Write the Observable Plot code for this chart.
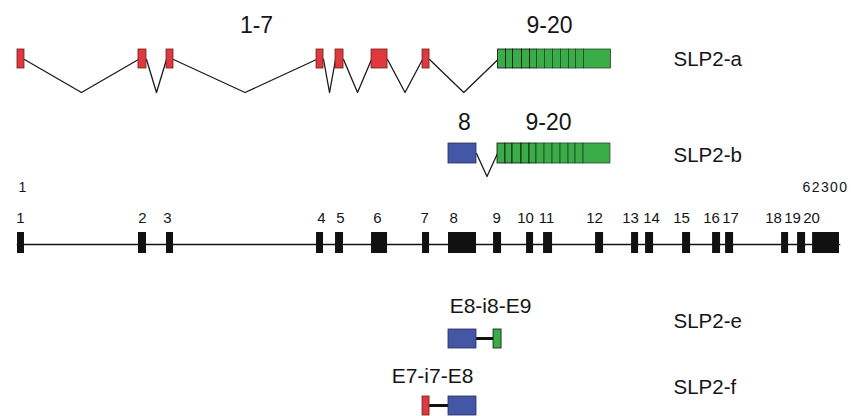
<!DOCTYPE html>
<html><head><meta charset="utf-8">
<script src="https://cdn.jsdelivr.net/npm/d3@7"></script>
<script src="https://cdn.jsdelivr.net/npm/@observablehq/plot@0.6"></script>
<style>
body{margin:0;background:#fff}
svg{display:block}
</style>
</head><body><div id="chart"></div>
<script>
// ---------------- DATA ----------------
const geneStart = 1;
const geneEnd = 62300;
const exonNumbers = [1,2,3,4,5,6,7,8,9,10,11,12,13,14,15,16,17,18,19,20];
const exonStarts = [1, 9170, 11294, 22664, 24104, 26833, 30699, 32666, 36081, 38582,
                    39871, 43812, 46541, 47602, 50407, 52681, 53666, 57911, 59124, 60261];
const exonEnds   = [530, 9777, 11824, 23195, 24711, 28046, 31230, 34788, 36687, 39113,
                    40553, 44419, 47072, 48209, 51013, 53287, 54273, 58442, 59730, 62300];
const exonLabelPos = [230, 9475, 11370, 23043, 24483, 27288, 30851, 33049, 36308, 38506,
                      40098, 43737, 46465, 48057, 50331, 52605, 54045, 57305, 58745, 60185];
const transcriptNames = ["SLP2-a", "SLP2-b", "SLP2-e", "SLP2-f"];
// SLP2-a: exons 1-7 spliced (genomic spacing), exons 9-20 joined
const slp2aSpaced = [1,2,3,4,5,6,7];
const slp2aJoined = [9,10,11,12,13,14,15,16,17,18,19,20];
const slp2aJoinStart = 36418;
// SLP2-b: exon 8 then joined exons 9-20
const slp2bSpaced = [8];
const slp2bJoined = [9,10,11,12,13,14,15,16,17,18,19,20];
const slp2bJoinStart = 36380;
// intron-retaining fragments
const slp2eExons = [8, 9];
const slp2fExons = [7, 8];
const groupLabelsA = ["1-7", "9-20"];
const groupLabelsB = ["8", "9-20"];
const fragmentLabels = ["E8-i8-E9", "E7-i7-E8"];

// ---------------- LAYOUT / STYLE ----------------
const W = 851, H = 416;
const xRange = [17, 839];
const bpPerPx = (geneEnd - geneStart) / (xRange[1] - xRange[0]);
const atPx = px => geneStart + (px - xRange[0]) * bpPerPx;
const FONT = "Liberation Sans, Arial, Helvetica, sans-serif";
const INK = "#151515";
const RED = "#e0393d", BLUE = "#4456a6", GREEN = "#3aad48";
const exonColor = n => n <= 7 ? RED : n === 8 ? BLUE : GREEN;
const exonStroke = n => n <= 7 ? "#6b2020" : n === 8 ? "#2a2f55" : (n <= 13 ? "#111" : "#24462a");

const track = {
  a: {top: 49, bottom: 68, attach: 59, vertex: 92},
  b: {top: 143, bottom: 163, attach: 153, vertex: 176},
  g: {top: 232, bottom: 253, line: 244},
  e: {top: 329, bottom: 348, line: 338},
  f: {top: 396, bottom: 415, line: 405}
};

const ex = n => ({exon: n, x1: exonStarts[n-1], x2: exonEnds[n-1]});
function joined(nums, start) {
  let s = start;
  return nums.map(n => {
    const w = exonEnds[n-1] - exonStarts[n-1];
    const r = {exon: n, x1: s, x2: s + w};
    s += w;
    return r;
  });
}
const withTrack = (arr, t) => arr.map(d => ({...d, y1: track[t].top, y2: track[t].bottom}));

const aSpaced = slp2aSpaced.map(ex);
const aJoined = joined(slp2aJoined, slp2aJoinStart);
const bSpaced = slp2bSpaced.map(ex);
const bJoined = joined(slp2bJoined, slp2bJoinStart);

function spliceLines(units, t, id) {
  const pts = [];
  for (let i = 0; i < units.length - 1; i++) {
    const a = units[i].x2, b = units[i+1].x1;
    pts.push({z: id + i, x: a, y: track[t].attach});
    pts.push({z: id + i, x: (a + b) / 2, y: track[t].vertex});
    pts.push({z: id + i, x: b, y: track[t].attach});
  }
  return pts;
}
const aUnits = [...aSpaced, {x1: aJoined[0].x1, x2: aJoined.at(-1).x2}];
const bUnits = [...bSpaced, {x1: bJoined[0].x1, x2: bJoined.at(-1).x2}];
const splices = [...spliceLines(aUnits, "a", "a"), ...spliceLines(bUnits, "b", "b")];

const rectsA = withTrack([...aSpaced, ...aJoined], "a");
const rectsB = withTrack([...bSpaced, ...bJoined], "b");
const rectsG = withTrack(exonNumbers.map(ex), "g");
const eEx = slp2eExons.map(ex), fEx = slp2fExons.map(ex);
const rectsE = withTrack(eEx, "e");
const rectsF = withTrack(fEx, "f");

const retained = [
  {z: "e", x: eEx[0].x2, y: track.e.line}, {z: "e", x: eEx[1].x1, y: track.e.line},
  {z: "f", x: fEx[0].x2, y: track.f.line}, {z: "f", x: fEx[1].x1, y: track.f.line}
];
const backbone = [{x: geneStart, y: track.g.line}, {x: geneEnd, y: track.g.line}];

const colorRects = [...rectsA, ...rectsB, ...rectsE, ...rectsF];

const nameLabels = transcriptNames.map((t, i) => ({
  text: t, x: atPx(673), y: [59, 155, 321, 387][i]
}));
const groupLabels = [
  {text: groupLabelsA[0], x: atPx(256), y: 25},
  {text: groupLabelsA[1], x: atPx(549), y: 25},
  {text: groupLabelsB[0], x: atPx(464), y: 122},
  {text: groupLabelsB[1], x: atPx(548), y: 122}
];
const fragLabels = [
  {text: fragmentLabels[0], x: atPx(490), y: 305.5},
  {text: fragmentLabels[1], x: atPx(432), y: 375.5}
];
const exonLabels = exonNumbers.map((n, i) => ({text: String(n), x: exonLabelPos[i], y: 218}));

const chart = Plot.plot({
  width: W, height: H, margin: 0,
  style: {fontFamily: FONT, background: "#fff"},
  x: {domain: [geneStart, geneEnd], range: xRange, axis: null},
  y: {domain: [0, H], range: [0, H], axis: null},
  marks: [
    Plot.line(splices, {x: "x", y: "y", z: "z", stroke: "#1a1a1a", strokeWidth: 1.3, curve: "linear"}),
    Plot.line(backbone, {x: "x", y: "y", stroke: "#111", strokeWidth: 1.7}),
    Plot.line(retained, {x: "x", y: "y", z: "z", stroke: "#111", strokeWidth: 3}),
    Plot.rect(rectsG, {x1: "x1", x2: "x2", y1: "y1", y2: "y2", fill: "#111"}),
    Plot.rect(colorRects, {x1: "x1", x2: "x2", y1: "y1", y2: "y2",
      fill: d => exonColor(d.exon), stroke: d => exonStroke(d.exon), strokeWidth: 0.8}),
    Plot.text(groupLabels, {x: "x", y: "y", text: "text", fontSize: 23, fill: INK}),
    Plot.text(nameLabels, {x: "x", y: "y", text: "text", fontSize: 20.5, textAnchor: "start", fill: INK}),
    Plot.text(fragLabels, {x: "x", y: "y", text: "text", fontSize: 21, fill: INK}),
    Plot.text(exonLabels, {x: "x", y: "y", text: "text", fontSize: 15, fill: INK}),
    Plot.text([{text: String(geneStart), x: geneStart, y: 187.5}], {x: "x", y: "y", text: "text", fontSize: 14, textAnchor: "start", dx: 1, fill: INK}),
    Plot.text([{text: String(geneEnd), x: geneEnd, y: 187.5}], {x: "x", y: "y", text: "text", fontSize: 14, textAnchor: "end", dx: 9, fill: INK})
  ]
});
document.getElementById("chart").appendChild(chart);
d3.select(chart).selectAll("text").filter(function(){ return this.textContent === String(geneEnd); })
  .attr("letter-spacing", "1.4px");
</script>
</body></html>
